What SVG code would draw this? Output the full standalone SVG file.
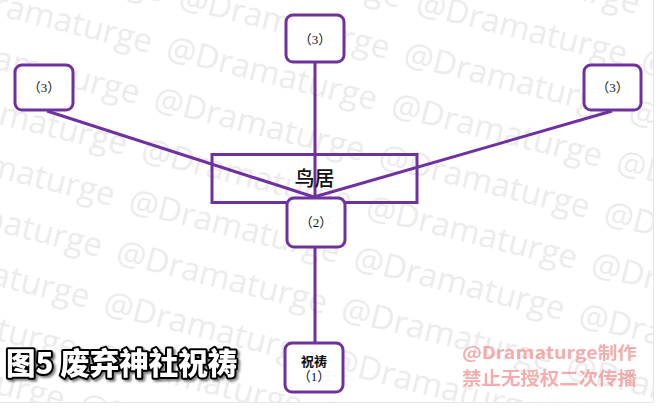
<svg xmlns="http://www.w3.org/2000/svg" width="672" height="408" viewBox="0 0 672 408">
<defs>
<style>
.wm{font-family:"Open Sans","Noto Sans",sans-serif;font-size:33px;fill:#ececec}
.box{fill:#fff;stroke:#7030a0;stroke-width:3}
.ln{stroke:#7030a0;stroke-width:3;fill:none}
.lbl{font-family:"Liberation Serif","Noto Sans CJK SC",serif;font-size:13px;fill:#111;text-anchor:middle}
</style>
<clipPath id="pg"><rect x="0" y="0" width="653" height="402"/></clipPath>
<filter id="sh" x="-5%" y="-20%" width="110%" height="140%"><feDropShadow dx="2" dy="2" stdDeviation="1" flood-color="#000" flood-opacity="0.5"/></filter>
</defs>
<rect width="672" height="408" fill="#fff"/>
<g id="watermark" clip-path="url(#pg)">
<text class="wm" x="-48" y="-50" transform="rotate(14 -48 -50)">@Dramaturge</text>
<text class="wm" x="-60.5" y="1" transform="rotate(14 -60.5 1)">@Dramaturge</text>
<text class="wm" x="-73" y="52" transform="rotate(14 -73 52)">@Dramaturge</text>
<text class="wm" x="-85.5" y="103" transform="rotate(14 -85.5 103)">@Dramaturge</text>
<text class="wm" x="-98" y="154" transform="rotate(14 -98 154)">@Dramaturge</text>
<text class="wm" x="-110.5" y="205" transform="rotate(14 -110.5 205)">@Dramaturge</text>
<text class="wm" x="-123" y="256" transform="rotate(14 -123 256)">@Dramaturge</text>
<text class="wm" x="-135.5" y="307" transform="rotate(14 -135.5 307)">@Dramaturge</text>
<text class="wm" x="-148" y="358" transform="rotate(14 -148 358)">@Dramaturge</text>
<text class="wm" x="-160.5" y="409" transform="rotate(14 -160.5 409)">@Dramaturge</text>
<text class="wm" x="189.5" y="-44" transform="rotate(14 189.5 -44)">@Dramaturge</text>
<text class="wm" x="177" y="7" transform="rotate(14 177 7)">@Dramaturge</text>
<text class="wm" x="164.5" y="58" transform="rotate(14 164.5 58)">@Dramaturge</text>
<text class="wm" x="152" y="109" transform="rotate(14 152 109)">@Dramaturge</text>
<text class="wm" x="139.5" y="160" transform="rotate(14 139.5 160)">@Dramaturge</text>
<text class="wm" x="127" y="211" transform="rotate(14 127 211)">@Dramaturge</text>
<text class="wm" x="114.5" y="262" transform="rotate(14 114.5 262)">@Dramaturge</text>
<text class="wm" x="102" y="313" transform="rotate(14 102 313)">@Dramaturge</text>
<text class="wm" x="89.5" y="364" transform="rotate(14 89.5 364)">@Dramaturge</text>
<text class="wm" x="77" y="415" transform="rotate(14 77 415)">@Dramaturge</text>
<text class="wm" x="427" y="-38" transform="rotate(14 427 -38)">@Dramaturge</text>
<text class="wm" x="414.5" y="13" transform="rotate(14 414.5 13)">@Dramaturge</text>
<text class="wm" x="402" y="64" transform="rotate(14 402 64)">@Dramaturge</text>
<text class="wm" x="389.5" y="115" transform="rotate(14 389.5 115)">@Dramaturge</text>
<text class="wm" x="377" y="166" transform="rotate(14 377 166)">@Dramaturge</text>
<text class="wm" x="364.5" y="217" transform="rotate(14 364.5 217)">@Dramaturge</text>
<text class="wm" x="352" y="268" transform="rotate(14 352 268)">@Dramaturge</text>
<text class="wm" x="339.5" y="319" transform="rotate(14 339.5 319)">@Dramaturge</text>
<text class="wm" x="327" y="370" transform="rotate(14 327 370)">@Dramaturge</text>
<text class="wm" x="314.5" y="421" transform="rotate(14 314.5 421)">@Dramaturge</text>
<text class="wm" x="652" y="19" transform="rotate(14 652 19)">@Dramaturge</text>
<text class="wm" x="639.5" y="70" transform="rotate(14 639.5 70)">@Dramaturge</text>
<text class="wm" x="627" y="121" transform="rotate(14 627 121)">@Dramaturge</text>
<text class="wm" x="614.5" y="172" transform="rotate(14 614.5 172)">@Dramaturge</text>
<text class="wm" x="602" y="223" transform="rotate(14 602 223)">@Dramaturge</text>
<text class="wm" x="589.5" y="274" transform="rotate(14 589.5 274)">@Dramaturge</text>
<text class="wm" x="577" y="325" transform="rotate(14 577 325)">@Dramaturge</text>
<text class="wm" x="564.5" y="376" transform="rotate(14 564.5 376)">@Dramaturge</text>
</g>
<g id="frame" stroke="#e6e6e6" stroke-width="1">
<line x1="653.5" y1="0" x2="653.5" y2="402.5"/>
<line x1="0" y1="402.5" x2="653.5" y2="402.5"/>
</g>
<g id="connectors">
<line class="ln" x1="315" y1="62" x2="315" y2="198"/>
<line class="ln" x1="47" y1="111" x2="314" y2="197"/>
<line class="ln" x1="612" y1="111" x2="314" y2="197"/>
<line class="ln" x1="315" y1="247" x2="315" y2="343"/>
</g>
<g id="torii">
<rect x="212" y="154.5" width="205" height="48" fill="none" stroke="#7030a0" stroke-width="3"/>
<text x="314.5" y="186" font-family="Noto Sans CJK SC,sans-serif" font-size="20" font-weight="500" fill="#111" text-anchor="middle">鸟居</text>
</g>
<g id="node-top">
<rect class="box" x="286" y="15" width="58" height="47" rx="7"/>
<text class="lbl" x="315" y="44">（3）</text>
</g>
<g id="node-left">
<rect class="box" x="15" y="65" width="58" height="45" rx="7"/>
<text class="lbl" x="44" y="92">（3）</text>
</g>
<g id="node-right">
<rect class="box" x="584" y="65" width="57" height="45" rx="7"/>
<text class="lbl" x="612.5" y="92">（3）</text>
</g>
<g id="node-2">
<rect class="box" x="287" y="198" width="58" height="49" rx="7"/>
<text class="lbl" x="316" y="227">（2）</text>
</g>
<g id="node-1">
<rect class="box" x="285" y="343" width="58" height="49" rx="7"/>
<text class="lbl" x="314" y="366" font-weight="bold">祝祷</text>
<text class="lbl" x="314" y="381">（1）</text>
</g>
<g id="title">
<text x="6" y="374" font-family="Noto Sans CJK SC,sans-serif" font-size="29.5" font-weight="900" fill="#fff" stroke="#000" stroke-width="4" stroke-linejoin="round" paint-order="stroke" filter="url(#sh)">图5 废弃神社祝祷</text>
</g>
<g id="credit" font-family="Noto Sans CJK SC,sans-serif" font-weight="bold" fill="#f08a8a" opacity="0.7">
<text x="462" y="359" font-size="17" textLength="175" lengthAdjust="spacingAndGlyphs">@Dramaturge制作</text>
<text x="462" y="385" font-size="18" textLength="175" lengthAdjust="spacingAndGlyphs">禁止无授权二次传播</text>
</g>
</svg>
